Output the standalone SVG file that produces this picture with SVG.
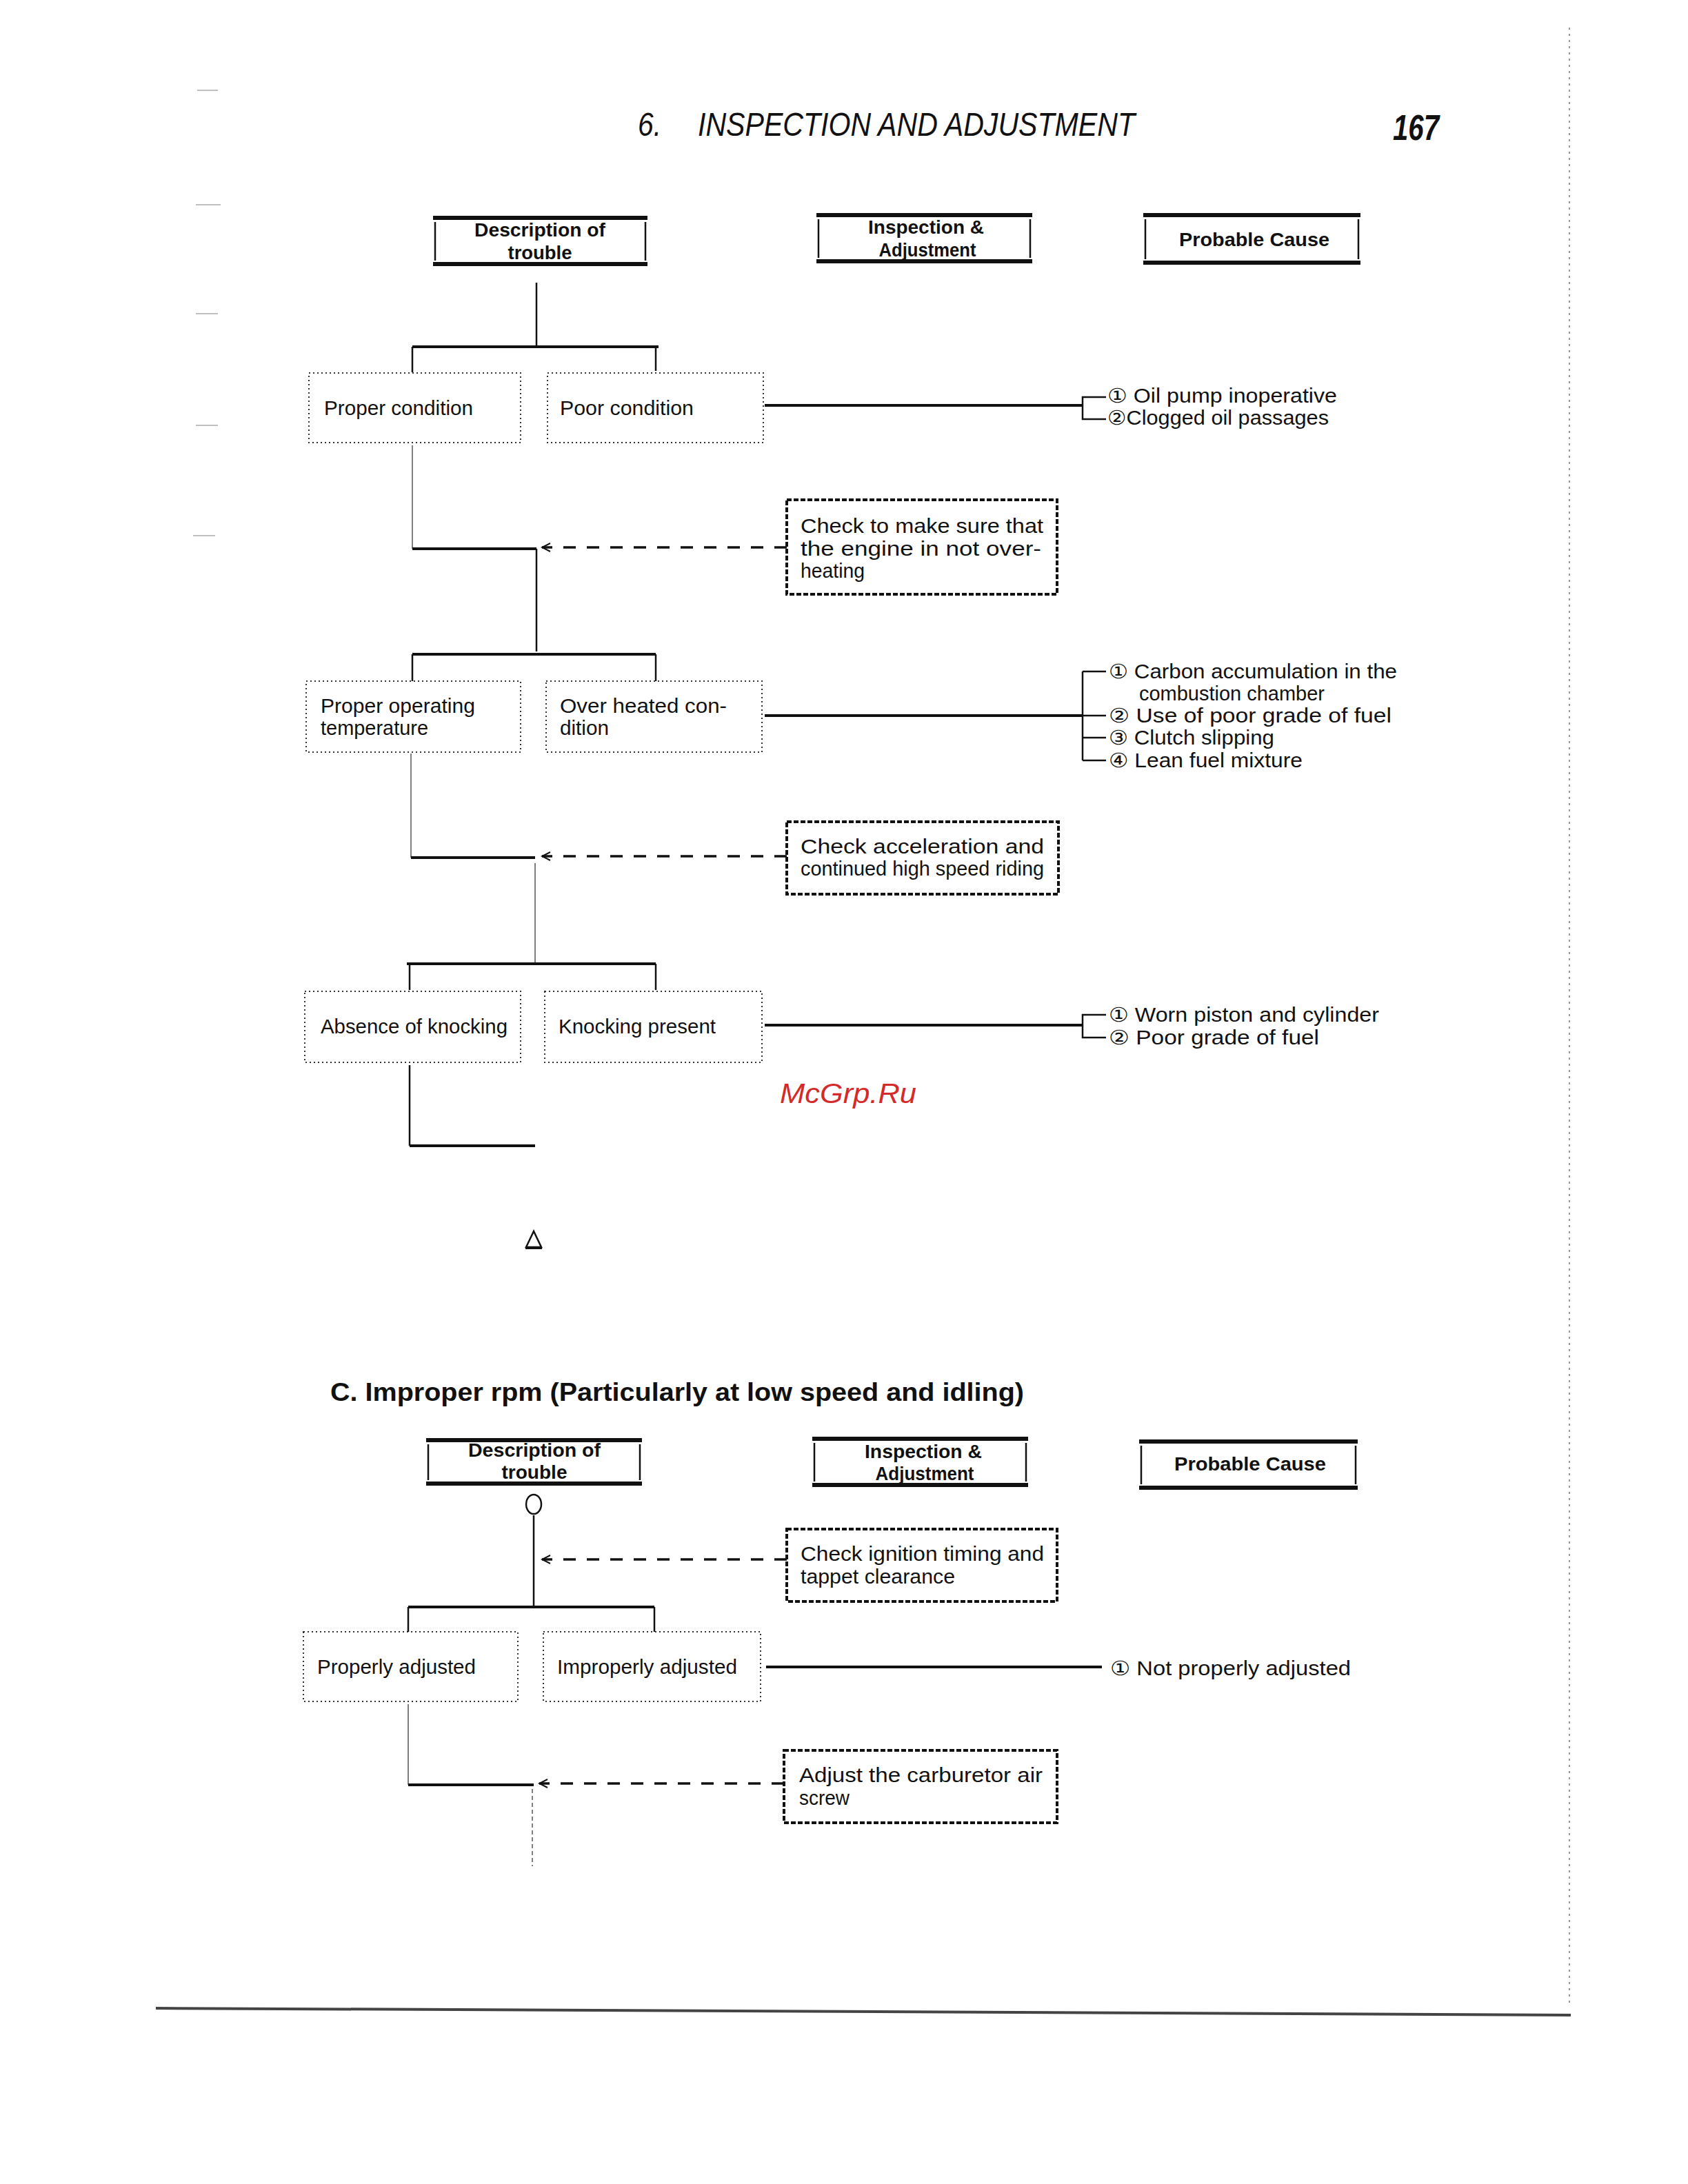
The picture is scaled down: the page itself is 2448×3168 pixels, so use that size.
<svg xmlns="http://www.w3.org/2000/svg" width="2448" height="3168" viewBox="0 0 2448 3168">
<style>
text{font-family:"Liberation Sans","DejaVu Sans","Noto Sans CJK JP",sans-serif;fill:#111}
.b{font-size:29px}
.h{font-size:27px;font-weight:bold}
.hb{stroke:#111;stroke-width:6;fill:none}
.hs{stroke:#111;stroke-width:2.5;fill:none}
.nd{fill:none;stroke:#333;stroke-width:2;stroke-dasharray:2 4}
.ck{fill:none;stroke:#111;stroke-width:4;stroke-dasharray:7 3}
.ln{stroke:#111;stroke-width:2.5;fill:none}
.th{stroke:#111;stroke-width:4;fill:none}
.fn{stroke:#555;stroke-width:1.5;fill:none}
.da{stroke:#111;stroke-width:3.5;fill:none;stroke-dasharray:18 16}
</style>
<defs>
<marker id="ar" markerWidth="16" markerHeight="14" refX="14" refY="7" orient="auto" markerUnits="userSpaceOnUse">
<path d="M2,1 L14,7 L2,13" fill="none" stroke="#111" stroke-width="2"/>
</marker>
</defs>
<rect width="2448" height="3168" fill="#fff"/>

<!-- page title -->
<g id="title">
<text x="925" y="197" font-size="48" font-style="italic" textLength="34" lengthAdjust="spacingAndGlyphs">6.</text>
<text x="1012" y="197" font-size="48" font-style="italic" textLength="634" lengthAdjust="spacingAndGlyphs">INSPECTION AND ADJUSTMENT</text>
<text x="2020" y="203" font-size="52" font-style="italic" font-weight="bold" textLength="67" lengthAdjust="spacingAndGlyphs">167</text>
</g>

<!-- scan page edges -->
<g id="page-edge">
<path d="M226,2913 L2278,2923" stroke="#444" stroke-width="4" fill="none"/>
<path d="M2276,40 L2276,2910" stroke="#999" stroke-width="2" stroke-dasharray="3 6" fill="none"/>
<path d="M286,131 h30 M284,297 h36 M284,455 h32 M284,617 h32 M280,777 h32" stroke="#aaa" stroke-width="1.5" fill="none"/>
</g>

<!-- header boxes, section 1 -->
<g id="hdr-desc-1">
<path class="hb" d="M628,316 H939 M628,383 H939"/>
<path class="hs" d="M631,322 V378 M936,322 V378"/>
<text class="h" x="783" y="343" text-anchor="middle" textLength="190" lengthAdjust="spacingAndGlyphs">Description of</text>
<text class="h" x="783" y="376" text-anchor="middle" textLength="93" lengthAdjust="spacingAndGlyphs">trouble</text>
</g>
<g id="hdr-insp-1">
<path class="hb" d="M1184,312 H1497 M1184,379 H1497"/>
<path class="hs" d="M1187,318 V374 M1494,318 V374"/>
<text class="h" x="1343" y="339" text-anchor="middle" textLength="168" lengthAdjust="spacingAndGlyphs">Inspection &amp;</text>
<text class="h" x="1345" y="372" text-anchor="middle" textLength="141" lengthAdjust="spacingAndGlyphs">Adjustment</text>
</g>
<g id="hdr-cause-1">
<path class="hb" d="M1658,312 H1973 M1658,381 H1973"/>
<path class="hs" d="M1661,318 V376 M1970,318 V376"/>
<text class="h" x="1819" y="357" text-anchor="middle" textLength="218" lengthAdjust="spacingAndGlyphs">Probable Cause</text>
</g>

<!-- nodes, level 1 -->
<g id="n-proper-condition">
<rect class="nd" x="448" y="541" width="307" height="101"/>
<text class="b" x="470" y="602" textLength="216" lengthAdjust="spacingAndGlyphs">Proper condition</text>
</g>
<g id="n-poor-condition">
<rect class="nd" x="794" y="541" width="313" height="101"/>
<text class="b" x="812" y="602" textLength="194" lengthAdjust="spacingAndGlyphs">Poor condition</text>
</g>
<g id="cause-1">
<text class="b" x="1606" y="584" textLength="333" lengthAdjust="spacingAndGlyphs">① Oil pump inoperative</text>
<text class="b" x="1606" y="616" textLength="321" lengthAdjust="spacingAndGlyphs">②Clogged oil passages</text>
</g>
<g id="check-1">
<rect class="ck" x="1141" y="725" width="392" height="137"/>
<text class="b" x="1161" y="773" textLength="352" lengthAdjust="spacingAndGlyphs">Check to make sure that</text>
<text class="b" x="1161" y="806" textLength="349" lengthAdjust="spacingAndGlyphs">the engine in not over-</text>
<text class="b" x="1161" y="838" textLength="93" lengthAdjust="spacingAndGlyphs">heating</text>
</g>

<!-- nodes, level 2 -->
<g id="n-proper-temp">
<rect class="nd" x="444" y="988" width="311" height="103"/>
<text class="b" x="465" y="1034" textLength="224" lengthAdjust="spacingAndGlyphs">Proper operating</text>
<text class="b" x="465" y="1066" textLength="156" lengthAdjust="spacingAndGlyphs">temperature</text>
</g>
<g id="n-over-heated">
<rect class="nd" x="792" y="988" width="313" height="103"/>
<text class="b" x="812" y="1034" textLength="242" lengthAdjust="spacingAndGlyphs">Over heated con-</text>
<text class="b" x="812" y="1066" textLength="71" lengthAdjust="spacingAndGlyphs">dition</text>
</g>
<g id="cause-2">
<text class="b" x="1608" y="984" textLength="418" lengthAdjust="spacingAndGlyphs">① Carbon accumulation in the</text>
<text class="b" x="1652" y="1016" textLength="269" lengthAdjust="spacingAndGlyphs">combustion chamber</text>
<text class="b" x="1608" y="1048" textLength="410" lengthAdjust="spacingAndGlyphs">② Use of poor grade of fuel</text>
<text class="b" x="1608" y="1080" textLength="240" lengthAdjust="spacingAndGlyphs">③ Clutch slipping</text>
<text class="b" x="1608" y="1113" textLength="281" lengthAdjust="spacingAndGlyphs">④ Lean fuel mixture</text>
</g>
<g id="check-2">
<rect class="ck" x="1141" y="1192" width="394" height="105"/>
<text class="b" x="1161" y="1238" textLength="353" lengthAdjust="spacingAndGlyphs">Check acceleration and</text>
<text class="b" x="1161" y="1270" textLength="353" lengthAdjust="spacingAndGlyphs">continued high speed riding</text>
</g>

<!-- nodes, level 3 -->
<g id="n-absence-knocking">
<rect class="nd" x="442" y="1438" width="313" height="103"/>
<text class="b" x="465" y="1499" textLength="271" lengthAdjust="spacingAndGlyphs">Absence of knocking</text>
</g>
<g id="n-knocking-present">
<rect class="nd" x="790" y="1438" width="315" height="103"/>
<text class="b" x="810" y="1499" textLength="228" lengthAdjust="spacingAndGlyphs">Knocking present</text>
</g>
<g id="cause-3">
<text class="b" x="1608" y="1482" textLength="392" lengthAdjust="spacingAndGlyphs">① Worn piston and cylinder</text>
<text class="b" x="1608" y="1515" textLength="305" lengthAdjust="spacingAndGlyphs">② Poor grade of fuel</text>
</g>
<g id="end-triangle">
<polygon points="774,1786 763,1809 785,1809" fill="none" stroke="#111" stroke-width="2.5"/>
<path d="M762,1810 H786" stroke="#111" stroke-width="4"/>
</g>

<text x="1131" y="1600" font-size="40" font-style="italic" style="fill:#d42a2a" textLength="198" lengthAdjust="spacingAndGlyphs">McGrp.Ru</text>

<!-- section C -->
<text x="479" y="2032" font-size="36" font-weight="bold" textLength="1006" lengthAdjust="spacingAndGlyphs">C. Improper rpm (Particularly at low speed and idling)</text>

<g id="hdr-desc-2">
<path class="hb" d="M618,2089 H931 M618,2152 H931"/>
<path class="hs" d="M621,2095 V2147 M928,2095 V2147"/>
<text class="h" x="775" y="2113" text-anchor="middle" textLength="192" lengthAdjust="spacingAndGlyphs">Description of</text>
<text class="h" x="775" y="2145" text-anchor="middle" textLength="95" lengthAdjust="spacingAndGlyphs">trouble</text>
</g>
<g id="hdr-insp-2">
<path class="hb" d="M1178,2087 H1491 M1178,2154 H1491"/>
<path class="hs" d="M1181,2093 V2149 M1488,2093 V2149"/>
<text class="h" x="1339" y="2115" text-anchor="middle" textLength="170" lengthAdjust="spacingAndGlyphs">Inspection &amp;</text>
<text class="h" x="1341" y="2147" text-anchor="middle" textLength="143" lengthAdjust="spacingAndGlyphs">Adjustment</text>
</g>
<g id="hdr-cause-2">
<path class="hb" d="M1652,2091 H1969 M1652,2158 H1969"/>
<path class="hs" d="M1655,2097 V2153 M1966,2097 V2153"/>
<text class="h" x="1813" y="2133" text-anchor="middle" textLength="220" lengthAdjust="spacingAndGlyphs">Probable Cause</text>
</g>
<g id="start-circle">
<ellipse cx="774" cy="2182" rx="11" ry="14" fill="none" stroke="#111" stroke-width="2.5"/>
</g>
<g id="check-3">
<rect class="ck" x="1141" y="2218" width="392" height="105"/>
<text class="b" x="1161" y="2264" textLength="353" lengthAdjust="spacingAndGlyphs">Check ignition timing and</text>
<text class="b" x="1161" y="2297" textLength="224" lengthAdjust="spacingAndGlyphs">tappet clearance</text>
</g>
<g id="n-properly-adjusted">
<rect class="nd" x="440" y="2367" width="311" height="101"/>
<text class="b" x="460" y="2428" textLength="230" lengthAdjust="spacingAndGlyphs">Properly adjusted</text>
</g>
<g id="n-improperly-adjusted">
<rect class="nd" x="788" y="2367" width="315" height="101"/>
<text class="b" x="808" y="2428" textLength="261" lengthAdjust="spacingAndGlyphs">Improperly adjusted</text>
</g>
<g id="cause-4">
<text class="b" x="1610" y="2430" textLength="349" lengthAdjust="spacingAndGlyphs">① Not properly adjusted</text>
</g>
<g id="check-4">
<rect class="ck" x="1137" y="2539" width="396" height="105"/>
<text class="b" x="1159" y="2585" textLength="353" lengthAdjust="spacingAndGlyphs">Adjust the carburetor air</text>
<text class="b" x="1159" y="2618" textLength="73" lengthAdjust="spacingAndGlyphs">screw</text>
</g>

<!-- connectors -->
<g id="connectors">
<path class="ln" d="M778,410 V503"/>
<path class="th" d="M598,503 H955"/>
<path class="ln" d="M598,503 V540 M951,503 V538"/>
<path class="th" d="M1109,588 H1570"/>
<path class="ln" d="M1604,576 H1570 V608 H1604"/>
<path class="fn" d="M598,646 V796"/>
<path class="th" d="M598,796 H778"/>
<path class="ln" d="M778,796 V945"/>
<path class="da" d="M1141,794 H786" marker-end="url(#ar)"/>

<path class="th" d="M598,949 H951"/>
<path class="ln" d="M598,949 V988 M951,949 V988"/>
<path class="th" d="M1109,1038 H1570"/>
<path class="ln" d="M1570,974 V1103 M1570,974 H1604 M1570,1038 H1604 M1570,1070 H1604 M1570,1103 H1604"/>
<path class="fn" d="M596,1093 V1244"/>
<path class="th" d="M596,1244 H776"/>
<path class="fn" d="M776,1252 V1398"/>
<path class="da" d="M1141,1242 H786" marker-end="url(#ar)"/>

<path class="th" d="M590,1398 H951"/>
<path class="ln" d="M594,1398 V1436 M951,1398 V1436"/>
<path class="th" d="M1109,1487 H1570"/>
<path class="ln" d="M1604,1472 H1570 V1505 H1604"/>
<path class="ln" d="M594,1545 V1662"/>
<path class="th" d="M594,1662 H776"/>

<path class="ln" d="M774,2198 V2331"/>
<path class="da" d="M1141,2262 H786" marker-end="url(#ar)"/>
<path class="th" d="M592,2331 H949"/>
<path class="ln" d="M592,2331 V2367 M949,2331 V2367"/>
<path class="th" d="M1111,2418 H1598"/>
<path class="fn" d="M592,2472 V2589"/>
<path class="th" d="M592,2589 H774"/>
<path class="da" d="M1137,2587 H782" marker-end="url(#ar)"/>
<path class="fn" d="M772,2595 V2707" stroke-dasharray="6 4"/>
</g>
</svg>
